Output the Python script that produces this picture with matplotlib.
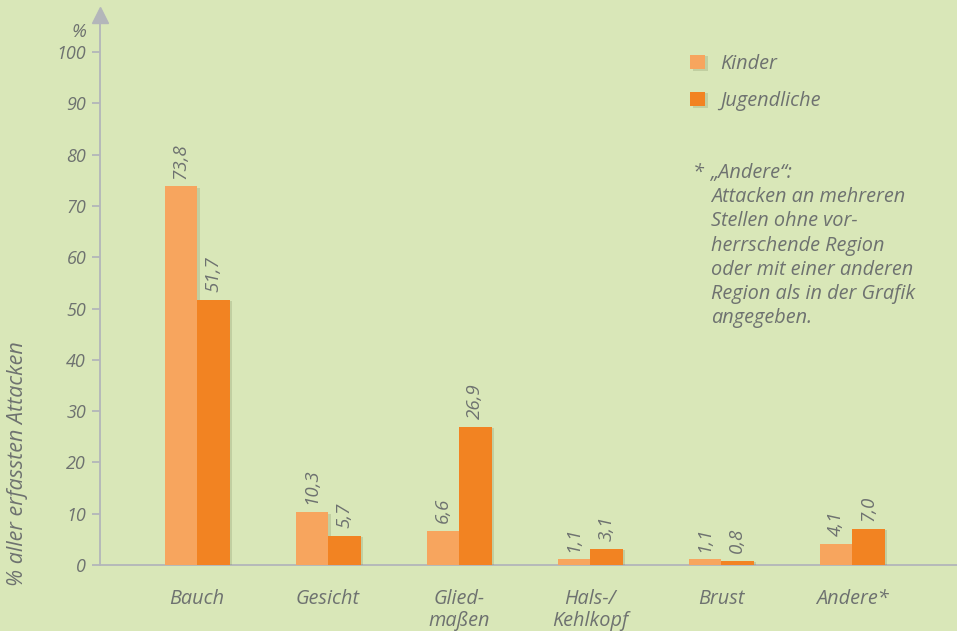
import numpy as np
import matplotlib
matplotlib.use("Agg")
import matplotlib.pyplot as plt
import matplotlib.patheffects as pe

categories = ["Bauch", "Gesicht", "Glied-\nmaßen", "Hals-/\nKehlkopf", "Brust", "Andere*"]
kinder = [73.8, 10.3, 6.6, 1.1, 1.1, 4.1]
jugendliche = [51.7, 5.7, 26.9, 3.1, 0.8, 7.0]
kinder_labels = ["73,8", "10,3", "6,6", "1,1", "1,1", "4,1"]
jugend_labels = ["51,7", "5,7", "26,9", "3,1", "0,8", "7,0"]
yticks = list(range(0, 101, 10))

bg = "#d9e7b8"
c_kinder = "#f7a55e"
c_jugend = "#f28322"
txt = "#6e7270"
axis_c = "#b3b6ba"

plt.rcParams["font.family"] = ["Open Sans", "DejaVu Sans"]
plt.rcParams["font.style"] = "italic"

W, H = 957, 631
fig = plt.figure(figsize=(W / 100, H / 100), dpi=100, facecolor=bg)

def fx(px):
    return px / W

def fy(py):
    return 1 - py / H

# axes: y=0 at 565px, y=100 at 52px, tip of axis arrow at ~8px
ax_left, ax_right, ax_bottom, ax_top = 100, 957, 565, 15
ax = fig.add_axes([fx(ax_left), fy(ax_bottom), fx(ax_right - ax_left), (ax_bottom - ax_top) / H])
ax.set_facecolor(bg)
px_per_unit = (565 - 52) / 100
ax.set_ylim(0, (ax_bottom - ax_top) / px_per_unit)
step = 131
x0 = 197
ax.set_xlim((ax_left - x0) / step, (ax_right - x0) / step)

x = np.arange(len(categories))
w = 32.5 / step
shadow = [pe.SimplePatchShadow(offset=(2, -1), shadow_rgbFace="#7a8a60", alpha=0.25), pe.Normal()]
b1 = ax.bar(x - w / 2, kinder, w, color=c_kinder, label="Kinder", zorder=3)
b2 = ax.bar(x + w / 2, jugendliche, w, color=c_jugend, label="Jugendliche", zorder=3)
for b in list(b1) + list(b2):
    b.set_path_effects(shadow)

for xi, v, s in zip(x - w / 2, kinder, kinder_labels):
    ax.text(xi, v + 1.5, s, rotation=90, ha="center", va="bottom", fontsize=13.5, color=txt)
for xi, v, s in zip(x + w / 2, jugendliche, jugend_labels):
    ax.text(xi, v + 1.5, s, rotation=90, ha="center", va="bottom", fontsize=13.5, color=txt)

for sp in ["top", "right"]:
    ax.spines[sp].set_visible(False)
for sp in ["left", "bottom"]:
    ax.spines[sp].set_color(axis_c)
    ax.spines[sp].set_linewidth(1.3)

ax.set_yticks(yticks)
ax.set_yticklabels([str(t) for t in yticks], fontsize=13, color=txt)
ax.tick_params(axis="y", length=6, width=1.3, color=axis_c, pad=4)
ax.set_xticks(x)
ax.set_xticklabels(categories, fontsize=14.3, color=txt, linespacing=1.15)
ax.tick_params(axis="x", length=0, pad=17)

# arrow on the y axis
ax.plot([0], [1], marker="^", markersize=11, color=axis_c, transform=ax.transAxes,
        clip_on=False, zorder=5)

fig.text(fx(86), fy(32), "%", fontsize=13.5, color=txt, ha="right", va="center")
fig.text(fx(18), fy(464), "% aller erfassten Attacken", rotation=90, fontsize=15.5,
         color=txt, ha="center", va="center")

leg = ax.legend(loc="upper left", bbox_to_anchor=(fx(690), fy(54)), bbox_transform=fig.transFigure,
                frameon=False, fontsize=14.3, handlelength=0.75, handleheight=0.75,
                handletextpad=0.75, labelspacing=0.85, labelcolor=txt,
                borderpad=0, borderaxespad=0)

fig.text(fx(693), fy(173), "*", fontsize=14.3, color=txt, ha="left", va="center")
note = ["„Andere“:", "Attacken an mehreren", "Stellen ohne vor-", "herrschende Region",
        "oder mit einer anderen", "Region als in der Grafik", "angegeben."]
for i, line in enumerate(note):
    fig.text(fx(711), fy(173 + 24.2 * i), line, fontsize=14.3, color=txt, ha="left", va="center")

fig.savefig("out.png", dpi=100, facecolor=bg)
